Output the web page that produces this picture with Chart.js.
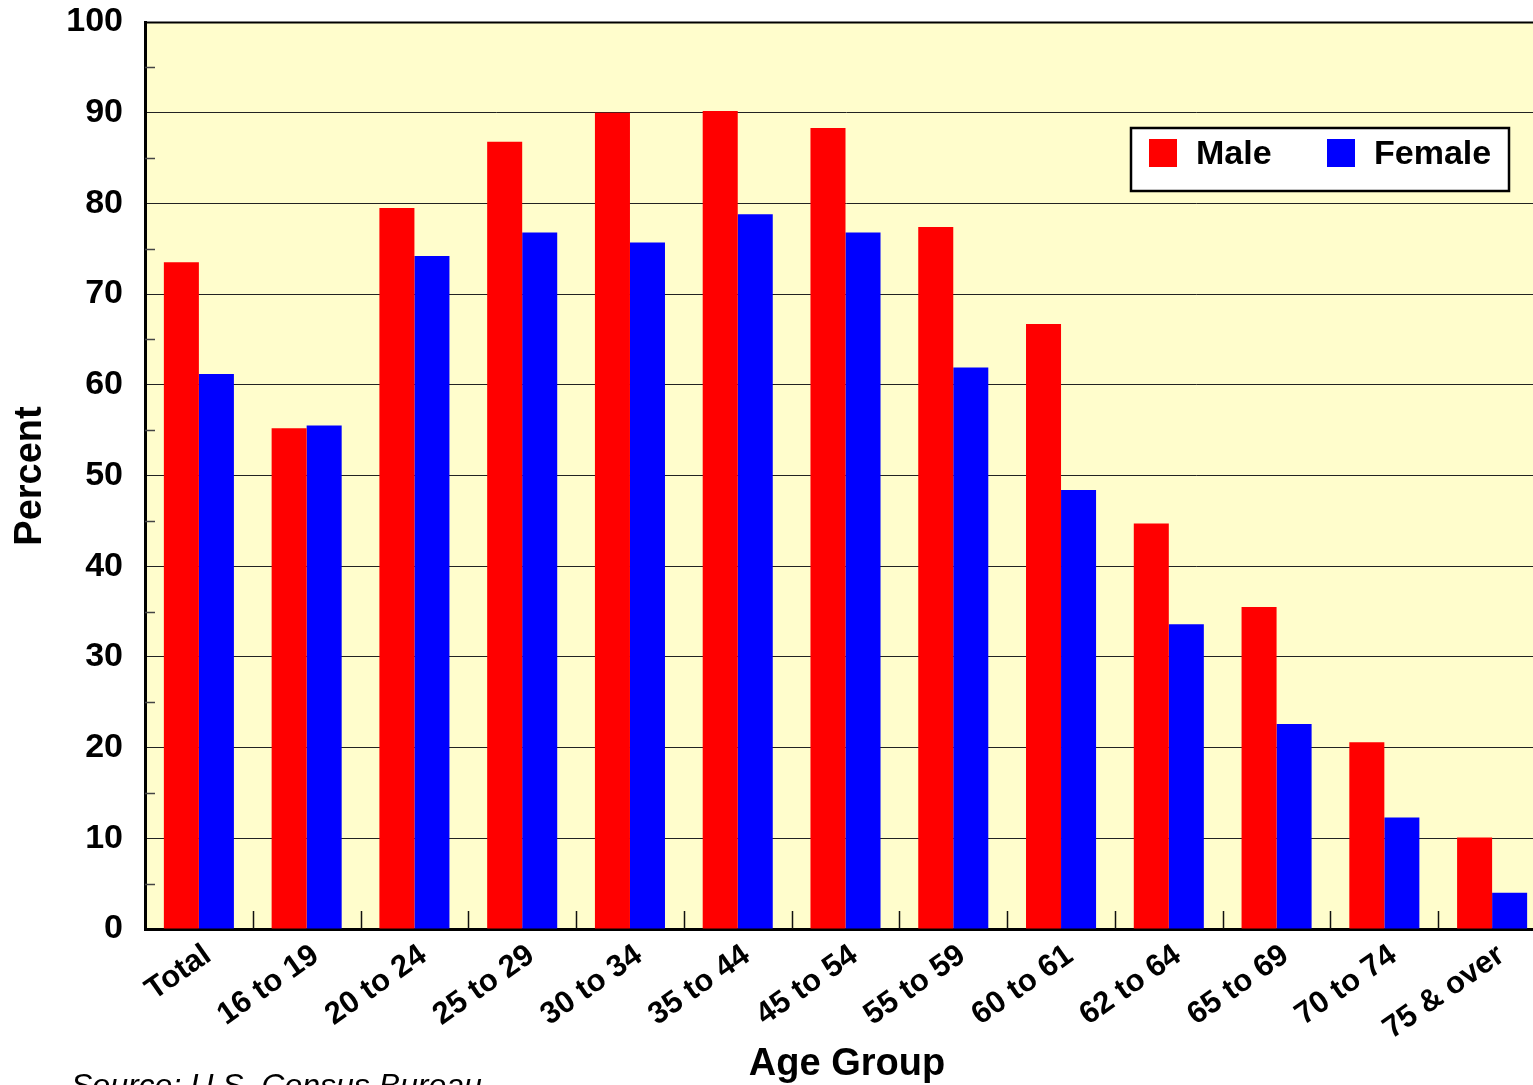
<!DOCTYPE html>
<html>
<head>
<meta charset="utf-8">
<script src="https://cdn.jsdelivr.net/npm/chart.js@4/dist/chart.umd.min.js"></script>
<style>
  html, body { margin: 0; padding: 0; background: #ffffff; overflow: hidden; }
  #wrap { width: 1546px; height: 1085px; position: relative; }
</style>
</head>
<body>
<div id="wrap"><canvas id="chart"></canvas></div>
<script>
// Labor force participation by age group and sex
const ageGroups = ['Total', '16 to 19', '20 to 24', '25 to 29', '30 to 34', '35 to 44', '45 to 54',
                   '55 to 59', '60 to 61', '62 to 64', '65 to 69', '70 to 74', '75 & over'];
const maleValues   = [73.5, 55.2, 79.5, 86.8, 90.0, 90.2, 88.3, 77.4, 66.7, 44.7, 35.5, 20.6, 10.1];
const femaleValues = [61.2, 55.5, 74.2, 76.8, 75.7, 78.8, 76.8, 61.9, 48.4, 33.6, 22.6, 12.3, 4.0];
const yTicks = [0, 10, 20, 30, 40, 50, 60, 70, 80, 90, 100];
const yTitle = 'Percent';
const xTitle = 'Age Group';
const sourceNote = 'Source: U.S. Census Bureau';

const FONT = '"Liberation Sans", Arial, Helvetica, sans-serif';

// Pale yellow plot background, inside-ticks, top border, titles and the boxed legend
const decorations = {
  id: 'decorations',
  beforeDraw(chart) {
    const { ctx, chartArea: a } = chart;
    ctx.save();
    ctx.fillStyle = '#FFFDCC';
    ctx.fillRect(a.left, a.top, a.right - a.left, a.bottom - a.top);
    ctx.restore();
  },
  afterDraw(chart) {
    const { ctx, chartArea: a } = chart;
    const y = chart.scales.y, x = chart.scales.x;
    ctx.save();
    // top frame line
    ctx.strokeStyle = '#000';
    ctx.lineWidth = 2;
    ctx.beginPath();
    ctx.moveTo(a.left, a.top + 0.5);
    ctx.lineTo(a.right, a.top + 0.5);
    ctx.stroke();
    // minor ticks at the halfway values, pointing inward
    ctx.strokeStyle = '#444';
    ctx.lineWidth = 1.5;
    for (let i = 0; i < yTicks.length - 1; i++) {
      const py = Math.round(y.getPixelForValue((yTicks[i] + yTicks[i + 1]) / 2)) + 0.5;
      ctx.beginPath();
      ctx.moveTo(a.left, py);
      ctx.lineTo(a.left + 10, py);
      ctx.stroke();
    }
    // category boundary ticks along the bottom, pointing inward
    ctx.strokeStyle = '#111';
    for (let i = 1; i < ageGroups.length; i++) {
      const px = Math.round((x.getPixelForValue(i - 1) + x.getPixelForValue(i)) / 2) + 0.5;
      ctx.beginPath();
      ctx.moveTo(px, a.bottom);
      ctx.lineTo(px, a.bottom - 18);
      ctx.stroke();
    }
    // axis titles
    ctx.fillStyle = '#000';
    ctx.font = 'bold 38px ' + FONT;
    ctx.textAlign = 'center';
    ctx.textBaseline = 'middle';
    ctx.save();
    ctx.translate(31, 476);
    ctx.rotate(-Math.PI / 2);
    ctx.fillText(yTitle, 0, 0);
    ctx.restore();
    ctx.textBaseline = 'alphabetic';
    ctx.fillText(xTitle, 847, 1075);
    // source note
    ctx.font = 'italic 32px ' + FONT;
    ctx.textAlign = 'left';
    ctx.fillText(sourceNote, 71, 1096);
    // legend box
    const bx = 1131, by = 128, bw = 378, bh = 63;
    ctx.fillStyle = '#ffffff';
    ctx.fillRect(bx, by, bw, bh);
    ctx.strokeStyle = '#000';
    ctx.lineWidth = 2.5;
    ctx.strokeRect(bx, by, bw, bh);
    const items = chart.data.datasets;
    const itemX = [1149, 1327];
    ctx.font = 'bold 34px ' + FONT;
    ctx.textBaseline = 'middle';
    items.forEach((ds, i) => {
      ctx.fillStyle = ds.backgroundColor;
      ctx.fillRect(itemX[i], 139, 28, 28);
      ctx.fillStyle = '#000';
      ctx.fillText(ds.label, itemX[i] + 47, 155);
    });
    ctx.restore();
  }
};

new Chart(document.getElementById('chart'), {
  type: 'bar',
  data: {
    labels: ageGroups,
    datasets: [
      { label: 'Male', data: maleValues, backgroundColor: '#FF0000', borderWidth: 0 },
      { label: 'Female', data: femaleValues, backgroundColor: '#0000FF', borderWidth: 0 }
    ]
  },
  options: {
    responsive: true,
    maintainAspectRatio: false,
    animation: false,
    devicePixelRatio: 1,
    categoryPercentage: 0.65,
    barPercentage: 1.0,
    layout: { padding: { top: 22, right: 0, left: 0, bottom: 0 } },
    plugins: { legend: { display: false }, tooltip: { enabled: false } },
    scales: {
      x: {
        afterFit(scale) { scale.height = 156; scale.paddingLeft = 0; scale.paddingRight = 0; },
        grid: { display: false },
        border: { display: true, color: '#000', width: 3 },
        ticks: {
          color: '#000',
          font: { family: FONT, size: 31, weight: 'bold' },
          maxRotation: 35, minRotation: 35,
          autoSkip: false,
          labelOffset: 9,
          padding: 0
        }
      },
      y: {
        min: 0, max: 100,
        afterFit(scale) { scale.width = 145; scale.paddingTop = 0; scale.paddingBottom = 0; },
        afterBuildTicks(scale) { scale.ticks = yTicks.map(v => ({ value: v })); },
        grid: { color: '#222', lineWidth: 1, drawTicks: false },
        border: { display: true, color: '#000', width: 3 },
        ticks: {
          color: '#000',
          font: { family: FONT, size: 34, weight: 'bold' },
          padding: 22
        }
      }
    }
  },
  plugins: [decorations]
});
</script>
</body>
</html>
